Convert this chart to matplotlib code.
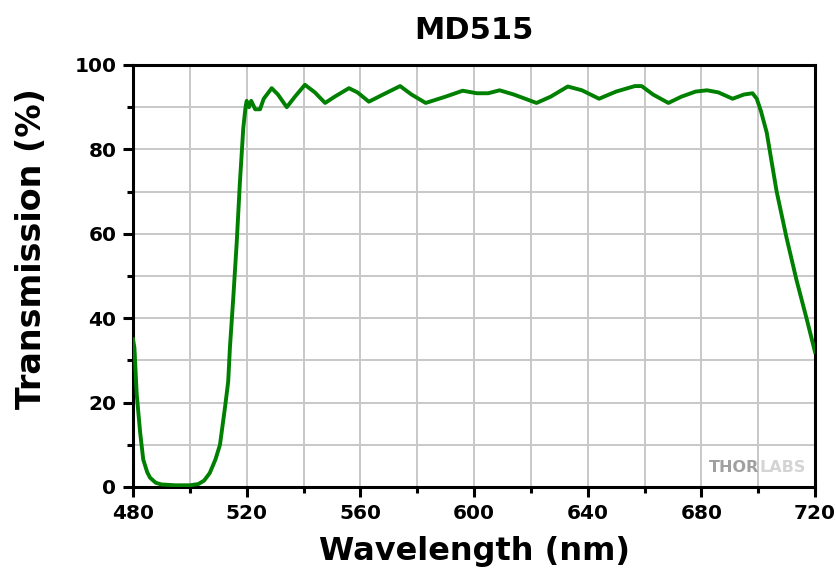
import matplotlib
matplotlib.use("Agg")
import matplotlib.pyplot as plt
from matplotlib.ticker import MultipleLocator

# transmission curve
wavelength = [480, 480.5, 481.3, 482.5, 483.6, 485, 486, 488, 490, 495,
              500, 503, 505, 507, 509, 510.6, 512.4, 513.5, 514.1, 515.3,
              516.5, 517.6, 518.8, 519.6, 520, 520.8, 521.6, 523, 524.7, 526,
              528.8, 531, 534.1, 537, 540.5, 544, 547.6, 551, 556, 559,
              563, 568, 574, 578, 583, 590, 596, 601, 605, 609,
              614, 622, 627, 633, 638, 644, 650, 656.6, 659, 663,
              668.4, 673, 678, 682, 686, 691, 695, 698, 699.5, 701,
              703, 706.5, 710, 713.5, 717, 720]
transmission = [35, 33, 22, 13, 6.5, 3.5, 2.2, 1.0, 0.6, 0.4,
                0.4, 0.7, 1.5, 3.3, 6.5, 10, 19, 25, 33, 45,
                58, 72, 85, 90, 91.5, 90, 91.5, 89.5, 89.5, 92,
                94.5, 93, 90, 92.5, 95.3, 93.5, 91, 92.5, 94.5, 93.5,
                91.3, 93, 95, 93, 91, 92.5, 93.9, 93.3, 93.3, 94,
                93, 91, 92.5, 94.9, 94, 92, 93.7, 95, 95, 93,
                91, 92.5, 93.7, 94, 93.5, 92, 93, 93.3, 92, 89,
                84, 70, 59, 49, 40, 32]

xticks = [480, 520, 560, 600, 640, 680, 720]
yticks = [0, 20, 40, 60, 80, 100]

plt.rcParams['font.family'] = 'DejaVu Sans'
plt.rcParams['font.weight'] = 'bold'

fig = plt.figure(figsize=(8.36, 5.73), dpi=100)
ax = fig.add_axes([0.1591, 0.1501, 0.8158, 0.7365])

ax.plot(wavelength, transmission, color='#008000', linewidth=2.8, zorder=3)

ax.set_xlim(480, 720)
ax.set_ylim(0, 100)
ax.set_xticks(xticks)
ax.set_yticks(yticks)
ax.xaxis.set_minor_locator(MultipleLocator(20))
ax.yaxis.set_minor_locator(MultipleLocator(10))
ax.grid(True, which='both', color='#c8c8c8', linewidth=1.4, zorder=0)
ax.set_axisbelow(True)

for s in ax.spines.values():
    s.set_linewidth(2.2)
ax.tick_params(which='major', direction='out', length=7, width=2.2,
               labelsize=14.5, pad=5)
ax.tick_params(which='minor', direction='out', length=4, width=2.2)

ax.set_title('MD515', fontsize=22, fontweight='bold', pad=19)
ax.set_xlabel('Wavelength (nm)', fontsize=23, fontweight='bold')
ax.set_ylabel('Transmission (%)', fontsize=24, fontweight='bold')
ax.xaxis.set_label_coords(0.5, -0.115)
ax.yaxis.set_label_coords(-0.124, 0.566)

# Thorlabs watermark
t = ax.text(0.845, 0.036, 'THOR', transform=ax.transAxes, fontsize=11.5,
            fontweight='bold', color='#a0a0a0', va='baseline', ha='left')
ax.annotate('LABS', xy=(1, 0), xycoords=t, fontsize=11.5, fontweight='bold',
            color='#d4d4d4', va='bottom', ha='left')

plt.savefig('out.png', dpi=100)
